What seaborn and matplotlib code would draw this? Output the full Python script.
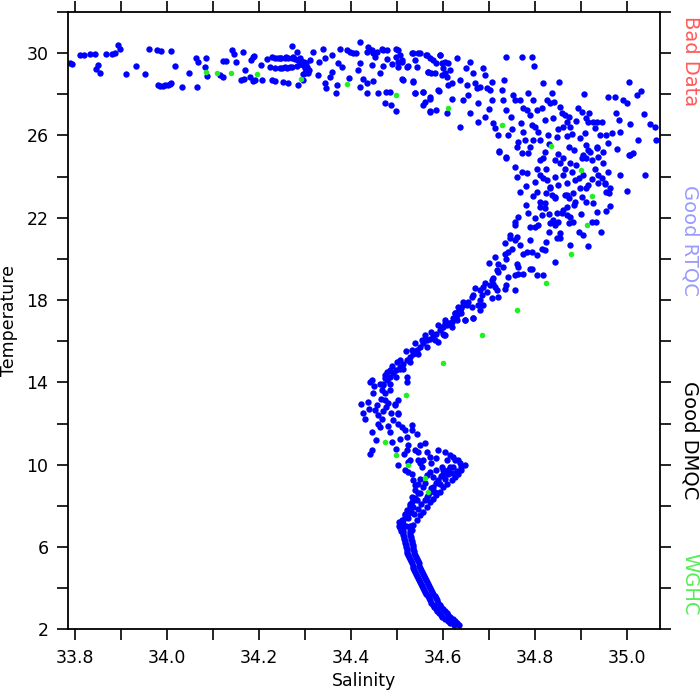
import numpy as np
import pandas as pd
from matplotlib import pyplot as plt
from matplotlib.ticker import MultipleLocator, FixedLocator
import seaborn as sns

# (salinity, temperature), grouped by depth range
surface_pts = [
    (33.789, 29.50), (33.793, 29.45), (33.811, 29.93), (33.820, 29.93), (33.834, 29.95),
    (33.843, 29.95), (33.847, 29.24), (33.851, 29.40), (33.854, 29.01), (33.867, 29.95),
    (33.880, 29.95), (33.887, 30.02), (33.894, 30.39), (33.898, 30.22), (33.912, 28.96),
    (33.933, 29.37), (33.952, 28.96), (33.962, 30.18), (33.978, 30.14), (33.988, 30.11),
    (34.010, 30.09), (34.017, 29.37), (33.981, 28.45), (33.992, 28.40), (34.003, 28.45),
    (34.010, 28.53), (34.032, 28.37), (34.048, 29.01), (34.064, 29.74), (34.068, 29.58),
    (34.066, 28.37), (34.083, 29.32), (34.085, 29.74), (34.088, 28.88), (34.115, 28.93),
    (34.122, 28.85), (34.122, 29.63), (34.128, 29.63), (34.141, 30.14), (34.146, 29.95),
    (34.151, 29.58), (34.166, 30.06), (34.170, 29.20), (34.167, 28.76), (34.180, 28.85),
    (34.184, 29.66), (34.190, 29.86), (34.188, 28.62), (34.162, 28.69), (33.985, 28.42),
    (33.997, 28.43), (34.006, 28.48), (34.188, 29.82), (34.191, 28.69), (34.206, 28.69),
    (34.217, 29.69), (34.228, 29.82), (34.235, 29.74), (34.242, 29.74), (34.249, 29.74),
    (34.257, 29.74), (34.264, 29.74), (34.271, 29.74), (34.271, 30.34), (34.282, 30.06),
    (34.289, 29.74), (34.293, 29.58), (34.296, 29.42), (34.300, 29.25), (34.304, 29.09),
    (34.307, 29.01), (34.311, 29.66), (34.318, 30.06), (34.224, 29.34), (34.235, 29.25),
    (34.246, 29.25), (34.257, 29.30), (34.267, 29.34), (34.228, 28.69), (34.235, 28.62),
    (34.253, 28.58), (34.264, 28.53), (34.285, 28.45), (34.296, 28.69), (34.329, 28.93),
    (34.340, 30.21), (34.343, 29.74), (34.343, 28.53), (34.347, 28.28), (34.354, 28.85),
    (34.358, 29.09), (34.369, 28.45), (34.367, 28.08), (34.372, 29.53), (34.376, 30.21),
    (34.380, 29.34), (34.391, 30.14), (34.398, 30.06), (34.405, 29.98), (34.412, 29.98),
    (34.420, 30.55), (34.420, 29.50), (34.420, 28.37), (34.427, 28.76), (34.434, 28.53),
    (34.434, 28.04), (34.438, 30.29), (34.441, 30.14), (34.445, 29.42), (34.449, 28.62),
    (34.456, 30.06), (34.460, 28.04), (34.463, 29.01), (34.469, 29.37), (34.470, 30.14),
    (34.474, 27.58), (34.477, 28.12), (34.485, 28.12), (34.488, 27.50), (34.499, 27.18),
    (34.503, 30.14), (34.499, 29.82), (34.510, 29.58), (34.514, 28.71), (34.521, 29.34),
    (34.532, 29.98), (34.535, 28.62), (34.539, 28.04), (34.543, 29.34), (34.550, 29.98),
    (34.557, 28.12), (34.557, 27.50), (34.564, 29.90), (34.568, 29.09), (34.572, 27.78),
    (34.572, 27.15), (34.579, 29.66), (34.583, 29.01), (34.586, 27.23), (34.590, 28.20),
    (34.593, 29.90), (34.597, 29.50), (34.604, 29.01), (34.608, 27.07), (34.612, 28.45),
    (34.278, 29.70), (34.285, 29.66), (34.292, 29.62), (34.298, 29.55), (34.302, 29.50),
    (34.275, 29.80), (34.260, 29.80), (34.245, 29.78), (34.250, 29.28), (34.262, 29.27),
    (34.272, 29.30), (34.282, 29.38), (34.290, 29.45), (34.305, 29.30), (34.310, 29.20),
    (34.300, 29.05), (34.295, 28.98), (34.452, 29.80), (34.478, 29.70), (34.490, 29.45),
    (34.415, 29.20), (34.395, 28.80), (34.360, 29.90), (34.330, 29.55), (34.205, 29.40),
]

mixed_pts = [
    (34.434, 30.06), (34.445, 30.15), (34.448, 29.99), (34.467, 30.19), (34.478, 30.15),
    (34.499, 30.18), (34.507, 29.90), (34.503, 29.58), (34.510, 29.66), (34.503, 29.33),
    (34.512, 28.74), (34.525, 29.37), (34.535, 29.99), (34.539, 29.66), (34.546, 29.99),
    (34.535, 28.60), (34.539, 28.04), (34.557, 28.12), (34.561, 27.63), (34.565, 29.90),
    (34.572, 29.74), (34.568, 29.09), (34.575, 29.01), (34.572, 27.88), (34.573, 27.18),
    (34.586, 29.50), (34.592, 28.17), (34.593, 29.90), (34.597, 28.93), (34.601, 29.26),
    (34.604, 29.58), (34.608, 28.85), (34.612, 29.50), (34.615, 29.17), (34.619, 28.53),
    (34.619, 27.75), (34.630, 29.74), (34.637, 28.69), (34.638, 26.39), (34.644, 27.72),
    (34.650, 29.26), (34.652, 28.44), (34.655, 27.96), (34.659, 29.58), (34.659, 27.07),
    (34.666, 29.01), (34.670, 28.53), (34.673, 28.28), (34.677, 27.55), (34.677, 26.66),
    (34.680, 28.36), (34.688, 29.26), (34.691, 28.93), (34.691, 26.90), (34.695, 28.28),
    (34.702, 28.20), (34.706, 28.60), (34.706, 27.72), (34.709, 26.58), (34.713, 26.34),
    (34.720, 26.01), (34.722, 25.20), (34.728, 28.20), (34.731, 27.72), (34.733, 28.69),
    (34.738, 27.23), (34.738, 29.82), (34.742, 26.01), (34.738, 24.88), (34.749, 26.90),
    (34.752, 27.96), (34.757, 27.72), (34.760, 25.44), (34.767, 27.72), (34.771, 29.79),
    (34.774, 27.31), (34.774, 26.17), (34.778, 25.77), (34.782, 27.23), (34.785, 28.04),
    (34.789, 26.99), (34.793, 26.50), (34.794, 29.79), (34.798, 29.37), (34.796, 27.72),
    (34.796, 25.77), (34.800, 26.42), (34.804, 27.23), (34.807, 26.17), (34.811, 25.77),
    (34.815, 27.31), (34.817, 28.53), (34.818, 24.88), (34.822, 26.74), (34.822, 25.20),
    (34.826, 27.72), (34.829, 26.01), (34.833, 27.55), (34.837, 28.04), (34.840, 26.83),
    (34.842, 27.63), (34.843, 24.80), (34.847, 25.93), (34.853, 28.59), (34.854, 27.39),
    (34.858, 27.07), (34.861, 26.42), (34.865, 26.99), (34.869, 26.66), (34.869, 25.96),
    (34.873, 26.90), (34.876, 26.42), (34.875, 25.44), (34.876, 24.64), (34.894, 27.31),
    (34.898, 25.85), (34.902, 27.15), (34.902, 24.88), (34.907, 27.99), (34.909, 26.10),
    (34.912, 26.83), (34.912, 25.53), (34.916, 26.66), (34.918, 27.07), (34.920, 25.20),
    (34.927, 26.66), (34.930, 26.34), (34.934, 25.44), (34.935, 26.66), (34.938, 24.96),
    (34.941, 26.01), (34.945, 26.66), (34.948, 25.20), (34.955, 26.01), (34.959, 27.88),
    (34.959, 25.61), (34.968, 26.10), (34.974, 27.88), (34.976, 27.10), (34.979, 25.33),
    (34.985, 26.17), (34.983, 26.74), (34.991, 27.72), (34.999, 27.58), (35.005, 28.59),
    (35.007, 26.53), (35.005, 25.04), (35.021, 27.96), (35.025, 25.77), (35.030, 28.15),
    (35.036, 27.02), (35.050, 26.53), (35.064, 25.77), (35.062, 26.42),
    (34.757, 24.47), (34.771, 24.23), (34.782, 24.15), (34.804, 24.39), (34.811, 24.07),
    (34.818, 23.91), (34.825, 24.39), (34.843, 23.99), (34.854, 24.64), (34.865, 24.39),
    (34.861, 24.07), (34.880, 24.23), (34.887, 23.83), (34.905, 24.07), (34.912, 24.88),
    (34.923, 24.80), (34.930, 24.39), (34.938, 24.07), (34.948, 24.64), (34.952, 23.67),
    (34.959, 24.23), (34.963, 23.42), (34.905, 25.04), (34.916, 25.28), (34.934, 25.37),
    (34.811, 24.80), (34.785, 25.12), (34.771, 25.12), (34.764, 25.69), (34.738, 24.96),
    (34.722, 25.26), (34.833, 23.42), (34.843, 23.02), (34.869, 23.10), (34.912, 23.42),
    (34.955, 23.26), (34.985, 24.07), (35.039, 24.07), (35.007, 25.04), (35.014, 25.12),
    (34.790, 25.45), (34.830, 25.60), (34.850, 25.10), (34.860, 24.90), (34.885, 25.30),
    (34.890, 24.55), (34.895, 23.95), (34.925, 23.90), (34.945, 23.95), (34.870, 23.70),
    (34.850, 23.60), (34.800, 23.75), (34.780, 23.55), (34.760, 24.00), (34.880, 26.05),
    (34.850, 26.30), (34.890, 26.70), (34.770, 26.60), (34.750, 26.30), (34.700, 27.30),
]

thermocline_pts = [
    (34.767, 23.26), (34.796, 23.05), (34.804, 23.26), (34.811, 22.77), (34.811, 22.53),
    (34.822, 22.69), (34.825, 23.18), (34.833, 23.50), (34.837, 23.10), (34.843, 22.98),
    (34.826, 23.83), (34.865, 23.10), (34.873, 22.94), (34.883, 23.18), (34.887, 22.77),
    (34.885, 22.61), (34.898, 23.42), (34.902, 23.02), (34.911, 22.77), (34.916, 23.58),
    (34.927, 22.69), (34.934, 22.29), (34.938, 23.67), (34.952, 23.63), (34.962, 23.18),
    (34.954, 22.33), (34.964, 22.56), (34.999, 23.31), (34.764, 22.01), (34.757, 21.64),
    (34.757, 21.80), (34.785, 22.21), (34.789, 21.56), (34.800, 21.56), (34.807, 21.64),
    (34.815, 22.13), (34.822, 22.45), (34.833, 21.72), (34.840, 21.88), (34.843, 21.64),
    (34.847, 22.21), (34.851, 21.80), (34.858, 22.21), (34.854, 21.24), (34.861, 22.37),
    (34.869, 22.13), (34.876, 22.01), (34.873, 21.72), (34.883, 21.80), (34.896, 21.32),
    (34.905, 21.16), (34.923, 21.80), (34.933, 21.80), (34.944, 21.32), (34.916, 20.62),
    (34.876, 20.67), (34.843, 19.86), (34.854, 20.99), (34.847, 20.99), (34.825, 20.82),
    (34.822, 20.41), (34.815, 20.50), (34.804, 20.17), (34.793, 20.33), (34.782, 20.33),
    (34.774, 20.25), (34.767, 20.67), (34.760, 21.07), (34.757, 20.91), (34.746, 20.99),
    (34.735, 20.75), (34.742, 20.33), (34.735, 20.25), (34.713, 20.09), (34.720, 19.76),
    (34.738, 20.01), (34.760, 19.76), (34.764, 19.60), (34.789, 19.52), (34.793, 19.52),
    (34.804, 19.20), (34.818, 19.20), (34.774, 19.28), (34.764, 19.28), (34.757, 19.20),
    (34.742, 19.12), (34.738, 18.72), (34.735, 18.55), (34.757, 18.50), (34.720, 19.37),
    (34.717, 19.48), (34.709, 19.05), (34.706, 18.97), (34.709, 18.80), (34.702, 18.72),
    (34.713, 18.64), (34.717, 18.48), (34.720, 18.16), (34.706, 18.09), (34.695, 18.40),
    (34.688, 18.64), (34.691, 18.81), (34.680, 18.48), (34.684, 18.24), (34.680, 18.00),
    (34.688, 17.75), (34.677, 17.75), (34.670, 18.56), (34.666, 18.24), (34.666, 17.11),
    (34.680, 17.51), (34.663, 18.15), (34.655, 17.91), (34.652, 17.75), (34.644, 17.91),
    (34.640, 17.59), (34.633, 17.67), (34.633, 17.43), (34.626, 17.35), (34.622, 17.11),
    (34.619, 16.94), (34.612, 16.86), (34.604, 16.86), (34.601, 16.70), (34.597, 16.70),
    (34.593, 16.53), (34.648, 17.02), (34.630, 17.02), (34.602, 16.29), (34.746, 21.15),
    (34.644, 17.75), (34.637, 17.51), (34.630, 17.27), (34.615, 16.86), (34.608, 16.78),
    (34.586, 16.37), (34.579, 16.29), (34.572, 16.13), (34.565, 16.05), (34.557, 15.89),
    (34.550, 15.72), (34.543, 15.56), (34.535, 15.40), (34.528, 15.24), (34.521, 15.08),
    (34.514, 14.91), (34.507, 14.75), (34.499, 14.59), (34.492, 14.43), (34.485, 14.27),
    (34.478, 14.10), (34.470, 13.94), (34.467, 13.62), (34.474, 13.46), (34.640, 17.35),
    (34.619, 16.70), (34.601, 16.37), (34.583, 16.05), (34.565, 15.72), (34.546, 15.40),
    (34.528, 14.99), (34.514, 14.67), (34.499, 14.27), (34.485, 13.94), (34.626, 17.35),
    (34.604, 17.02), (34.575, 16.45), (34.554, 16.05), (34.532, 15.56), (34.507, 15.08),
    (34.485, 14.59), (34.474, 14.19), (34.463, 13.94), (34.663, 17.67), (34.666, 17.11),
    (34.648, 17.02), (34.604, 16.29), (34.590, 15.98), (34.521, 14.27), (34.521, 14.02),
    (34.503, 13.13), (34.496, 12.89), (34.503, 12.48), (34.700, 19.80), (34.730, 19.60),
    (34.750, 20.50), (34.790, 20.90), (34.830, 21.30), (34.800, 22.00), (34.780, 22.60),
    (34.830, 22.20), (34.870, 22.50), (34.900, 22.20), (34.560, 16.30), (34.540, 15.90),
    (34.520, 15.50), (34.500, 15.00), (34.490, 14.80), (34.478, 14.50), (34.590, 16.80),
]

intermediate_pts = [
    (34.423, 12.97), (34.427, 12.49), (34.430, 12.24), (34.437, 13.05), (34.441, 14.02),
    (34.445, 14.10), (34.448, 13.46), (34.452, 12.65), (34.456, 12.89), (34.459, 12.40),
    (34.445, 11.59), (34.441, 10.54), (34.445, 10.70), (34.463, 11.84), (34.467, 12.24),
    (34.470, 13.86), (34.474, 14.35), (34.474, 13.13), (34.477, 12.81), (34.485, 13.62),
    (34.485, 11.59), (34.488, 12.49), (34.492, 12.16), (34.496, 12.97), (34.503, 12.00),
    (34.503, 12.49), (34.507, 14.67), (34.510, 11.84), (34.517, 11.67), (34.507, 11.27),
    (34.521, 11.35), (34.525, 10.95), (34.532, 11.92), (34.532, 11.67), (34.521, 10.70),
    (34.543, 11.51), (34.550, 10.95), (34.546, 10.62), (34.539, 10.70), (34.561, 11.03),
    (34.565, 10.62), (34.557, 10.22), (34.546, 10.22), (34.528, 10.22), (34.525, 10.14),
    (34.503, 9.97), (34.525, 9.65), (34.550, 10.06), (34.554, 9.89), (34.572, 10.38),
    (34.575, 10.06), (34.586, 10.30), (34.590, 10.70), (34.604, 10.62), (34.608, 10.22),
    (34.615, 10.46), (34.622, 10.38), (34.626, 10.22), (34.633, 10.22), (34.637, 10.06),
    (34.640, 9.89), (34.648, 9.97), (34.640, 9.73), (34.633, 9.57), (34.626, 9.40),
    (34.619, 9.24), (34.608, 9.08), (34.601, 8.92), (34.593, 8.68), (34.586, 8.51),
    (34.579, 8.35), (34.572, 8.19), (34.565, 7.95), (34.557, 7.70), (34.550, 7.54),
    (34.543, 7.30), (34.535, 7.06), (34.532, 6.81), (34.579, 9.40), (34.586, 9.73),
    (34.597, 9.89), (34.601, 9.57), (34.590, 9.24), (34.579, 8.92), (34.572, 8.68),
    (34.565, 8.44), (34.557, 8.92), (34.550, 8.60), (34.543, 8.27), (34.535, 7.95),
    (34.546, 9.08), (34.539, 8.76), (34.535, 9.24), (34.532, 8.44), (34.528, 8.11),
    (34.525, 7.62), (34.514, 7.30), (34.510, 7.06), (34.565, 9.49), (34.572, 9.65),
    (34.615, 9.89), (34.622, 9.89), (34.612, 9.57), (34.604, 9.32), (34.593, 9.08),
    (34.583, 8.68), (34.499, 10.78), (34.517, 9.73), (34.532, 9.57), (34.510, 7.30),
    (34.507, 6.90), (34.514, 7.14), (34.517, 7.54), (34.518, 7.60), (34.522, 7.80),
    (34.528, 8.00), (34.533, 8.20), (34.540, 8.40), (34.546, 8.60), (34.505, 7.20),
    (34.504, 7.00), (34.508, 6.80), (34.520, 7.00), (34.525, 7.40), (34.530, 7.70),
    (34.630, 9.70), (34.620, 9.60), (34.610, 9.75), (34.600, 9.75), (34.595, 9.45),
    (34.585, 9.10), (34.575, 8.85), (34.568, 8.55), (34.560, 8.30), (34.552, 8.10),
    (34.545, 7.85), (34.538, 7.60), (34.560, 9.10), (34.550, 9.30), (34.540, 9.00),
    (34.455, 11.20), (34.460, 12.00), (34.470, 12.60), (34.480, 13.00), (34.465, 13.20),
    (34.440, 12.70), (34.450, 13.80), (34.490, 11.10), (34.480, 11.90), (34.515, 10.50),
]

# deep branch: two edges of the narrow band below 7 degC
deep_temp = [2.2, 2.3, 2.4, 2.5, 2.6, 2.7, 2.8, 2.9, 3.0, 3.1, 3.2, 3.3, 3.4, 3.5, 3.6,
             3.7, 3.8, 3.9, 4.0, 4.1, 4.2, 4.3, 4.4, 4.5, 4.6, 4.7, 4.8, 4.9, 5.0, 5.1,
             5.2, 5.3, 5.4, 5.5, 5.6, 5.7, 5.8, 5.9, 6.0, 6.1, 6.2, 6.3, 6.4, 6.5, 6.6,
             6.7, 6.8, 6.9, 7.0]
deep_sal_left = [34.625, 34.616, 34.610, 34.604, 34.599, 34.595, 34.591, 34.587, 34.584,
                 34.581, 34.578, 34.575, 34.572, 34.569, 34.567, 34.564, 34.562, 34.559,
                 34.557, 34.555, 34.552, 34.550, 34.548, 34.546, 34.544, 34.542, 34.540,
                 34.538, 34.536, 34.534, 34.532, 34.530, 34.528, 34.526, 34.525, 34.523,
                 34.522, 34.521, 34.520, 34.519, 34.518, 34.517, 34.516, 34.515, 34.514,
                 34.513, 34.513, 34.512, 34.512]
deep_sal_right = [34.634, 34.631, 34.627, 34.621, 34.616, 34.612, 34.608, 34.604, 34.600,
                  34.596, 34.593, 34.590, 34.587, 34.584, 34.582, 34.579, 34.576, 34.574,
                  34.571, 34.569, 34.567, 34.565, 34.563, 34.561, 34.559, 34.557, 34.555,
                  34.553, 34.551, 34.549, 34.547, 34.545, 34.543, 34.542, 34.540, 34.538,
                  34.537, 34.536, 34.535, 34.534, 34.533, 34.532, 34.531, 34.530, 34.529,
                  34.529, 34.528, 34.528, 34.528]

# WGHC climatology profile
wghc_sal = [34.086, 34.108, 34.139, 34.196, 34.291, 34.391, 34.498, 34.610, 34.728,
            34.834, 34.900, 34.923, 34.913, 34.878, 34.824, 34.760, 34.685, 34.601,
            34.520, 34.474, 34.497, 34.525, 34.561, 34.567]
wghc_temp = [29.06, 29.04, 29.04, 28.97, 28.74, 28.48, 27.96, 27.34, 26.49,
             25.50, 24.33, 23.04, 21.63, 20.23, 18.85, 17.51, 16.29, 14.93,
             13.38, 11.09, 10.46, 9.96, 9.34, 8.67]

flag_labels = ["Bad Data", "Good RTQC", "Good DMQC", "WGHC"]
flag_colors = ["#ff5a5a", "#9a9aff", "black", "#55ee55"]


def build_frame():
    pts = surface_pts + mixed_pts + thermocline_pts + intermediate_pts
    sal = [p[0] for p in pts] + deep_sal_left + deep_sal_right
    temp = [p[1] for p in pts] + deep_temp + deep_temp
    return pd.DataFrame({"Salinity": sal, "Temperature": temp})


if __name__ == "__main__":
    sns.set_style("ticks")
    plt.rcParams['font.family'] = ['DejaVu Sans']

    fig = plt.figure(figsize=(7, 7), dpi=100)
    ax = fig.add_axes([0.097, 0.101, 0.846, 0.882])

    df = build_frame()
    sns.scatterplot(data=df, x="Salinity", y="Temperature", ax=ax,
                    color="#0000ff", s=21, linewidth=0)
    wghc = pd.DataFrame({"Salinity": wghc_sal, "Temperature": wghc_temp})
    sns.scatterplot(data=wghc, x="Salinity", y="Temperature", ax=ax,
                    color="#22ee22", s=16, linewidth=0)

    ax.set_xlim(33.785, 35.072)
    ax.set_ylim(2, 32)
    ax.set_xticks(np.arange(33.8, 35.01, 0.2))
    ax.set_xticklabels(["%.1f" % v for v in np.arange(33.8, 35.01, 0.2)])
    ax.xaxis.set_minor_locator(MultipleLocator(0.1))
    ax.set_yticks(np.arange(2, 31, 4))
    ax.yaxis.set_minor_locator(FixedLocator(np.arange(4, 33, 4)))
    ax.tick_params(which="both", direction="out", top=True, right=True,
                   length=8, width=1.2, labelsize=12.5, pad=6,
                   color="black", labelcolor="black")
    for sp in ax.spines.values():
        sp.set_linewidth(1.3)
        sp.set_color("black")
    ax.set_xlabel("Salinity", fontsize=12.5, color="black")
    ax.set_ylabel("Temperature", fontsize=12.5, labelpad=6, color="black")

    # flag legend written down the right margin
    for label, color, y in zip(flag_labels, flag_colors, [0.913, 0.657, 0.371, 0.166]):
        fig.text(0.986, y, label, color=color, rotation=-90, fontsize=14,
                 ha="center", va="center")

    fig.savefig("out.png", dpi=100)
